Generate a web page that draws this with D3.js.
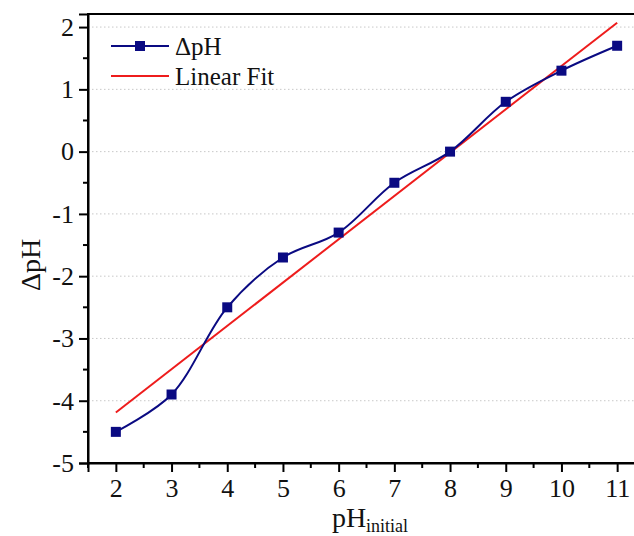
<!DOCTYPE html>
<html>
<head>
<meta charset="utf-8">
<script src="https://cdn.jsdelivr.net/npm/d3@7"></script>
<style>
  html, body { margin: 0; padding: 0; background: #fff; }
  svg { display: block; }
  text { font-family: "Liberation Serif", "Times New Roman", serif; fill: #111; }
</style>
</head>
<body>
<svg id="chart" width="634" height="536"></svg>
<script>
// Initial pH and measured change in pH
const phInitial = [2, 3, 4, 5, 6, 7, 8, 9, 10, 11];
const deltaPH = [-4.5, -3.9, -2.5, -1.7, -1.3, -0.5, 0.0, 0.8, 1.3, 1.7];

// Linear fit endpoints
const fitX = [2, 11];
const fitY = [-4.19, 2.07];

// Tick labels
const xTicks = [2, 3, 4, 5, 6, 7, 8, 9, 10, 11];
const yTicks = [-5, -4, -3, -2, -1, 0, 1, 2];

const svg = d3.select("#chart");
const plotL = 88, plotT = 14, plotR = 645, plotB = 463;

const x = d3.scaleLinear().domain([1.5, 11.5]).range([plotL, plotR]);
const y = d3.scaleLinear().domain([-5, 2.21]).range([plotB, plotT]);

const navy = "#0a0a82";
const red = "#ee1c1c";

// Dotted horizontal grid lines at major y ticks
svg.append("g")
  .selectAll("line")
  .data(yTicks.filter(v => v > -5))
  .join("line")
  .attr("x1", plotL).attr("x2", plotR)
  .attr("y1", d => y(d)).attr("y2", d => y(d))
  .attr("stroke", "#c8c8c8")
  .attr("stroke-width", 1)
  .attr("stroke-dasharray", "1.5,2.5");

// Frame
svg.append("rect")
  .attr("x", plotL).attr("y", plotT)
  .attr("width", plotR - plotL).attr("height", plotB - plotT)
  .attr("fill", "none").attr("stroke", "#000").attr("stroke-width", 2);

// Minor ticks
const xMinor = d3.range(1.5, 11.51, 0.5).filter(v => !Number.isInteger(v));
svg.append("g").selectAll("line").data(xMinor).join("line")
  .attr("x1", d => x(d)).attr("x2", d => x(d))
  .attr("y1", plotB).attr("y2", plotB + 5)
  .attr("stroke", "#000").attr("stroke-width", 2);
const yMinor = d3.range(-4.5, 2.1, 1);
svg.append("g").selectAll("line").data(yMinor).join("line")
  .attr("x1", plotL).attr("x2", plotL - 5)
  .attr("y1", d => y(d)).attr("y2", d => y(d))
  .attr("stroke", "#000").attr("stroke-width", 2);

// Axes (plain hyphen for negative labels)
const fmt = d => String(d);
const xAxis = d3.axisBottom(x).tickValues(xTicks).tickSize(9).tickPadding(7).tickFormat(fmt);
const gx = svg.append("g").attr("transform", `translate(0,${plotB})`).call(xAxis);
const yAxis = d3.axisLeft(y).tickValues(yTicks).tickSize(9).tickPadding(5).tickFormat(fmt);
const gy = svg.append("g").attr("transform", `translate(${plotL},0)`).call(yAxis);
[gx, gy].forEach(g => {
  g.select(".domain").attr("stroke", "#000").attr("stroke-width", 2);
  g.selectAll(".tick line").attr("stroke", "#000").attr("stroke-width", 2);
  g.selectAll(".tick text")
    .style("font-family", "'Liberation Serif', serif")
    .style("font-size", "26px").attr("fill", "#111");
});

// Axis titles
svg.append("text")
  .attr("transform", `translate(40,265) rotate(-90)`)
  .attr("text-anchor", "middle")
  .style("font-size", "28px")
  .text("ΔpH");

const xt = svg.append("text")
  .attr("x", 370).attr("y", 527)
  .attr("text-anchor", "middle")
  .style("font-size", "28px");
xt.append("tspan").text("pH");
xt.append("tspan").attr("dy", 5).style("font-size", "18px").text("initial");

// Linear fit
const line = d3.line().x(d => x(d[0])).y(d => y(d[1]));
svg.append("path")
  .datum(d3.zip(fitX, fitY))
  .attr("d", line)
  .attr("fill", "none").attr("stroke", red).attr("stroke-width", 2);

// Smoothed data curve
const curve = d3.line().x(d => x(d[0])).y(d => y(d[1])).curve(d3.curveCatmullRom.alpha(0.5));
svg.append("path")
  .datum(d3.zip(phInitial, deltaPH))
  .attr("d", curve)
  .attr("fill", "none").attr("stroke", navy).attr("stroke-width", 2);

// Markers
const ms = 10;
svg.append("g").selectAll("rect")
  .data(d3.zip(phInitial, deltaPH))
  .join("rect")
  .attr("x", d => x(d[0]) - ms / 2).attr("y", d => y(d[1]) - ms / 2)
  .attr("width", ms).attr("height", ms)
  .attr("fill", navy);

// Legend
const lg = svg.append("g");
lg.append("line").attr("x1", 111).attr("x2", 169).attr("y1", 46).attr("y2", 46)
  .attr("stroke", navy).attr("stroke-width", 2);
lg.append("rect").attr("x", 140 - 5).attr("y", 46 - 5).attr("width", 10).attr("height", 10)
  .attr("fill", navy);
lg.append("text").attr("x", 175).attr("y", 55).style("font-size", "25px").text("ΔpH");
lg.append("line").attr("x1", 111).attr("x2", 169).attr("y1", 76).attr("y2", 76)
  .attr("stroke", red).attr("stroke-width", 2);
lg.append("text").attr("x", 175).attr("y", 85).style("font-size", "25px").text("Linear Fit");
</script>
</body>
</html>
